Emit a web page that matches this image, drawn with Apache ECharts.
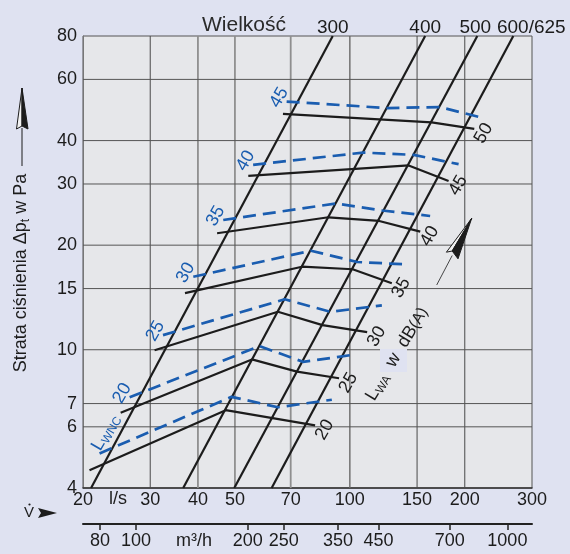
<!DOCTYPE html>
<html>
<head>
<meta charset="utf-8">
<script src="https://cdn.jsdelivr.net/npm/echarts@6/dist/echarts.min.js"></script>
<style>
  html, body { margin: 0; padding: 0; background: #dfe2f1; }
  #chart { width: 570px; height: 554px; }
</style>
</head>
<body>
<div id="chart"></div>
<script>
// ---------- axis ticks ----------
const flowTicks = [20, 30, 40, 50, 70, 100, 150, 200, 300];      // l/s
const flowGrid = [30, 40, 50, 70, 100, 150, 200];
const hourTicks = [80, 100, 200, 250, 350, 450, 700, 1000];      // m³/h
const pressureTicks = [4, 6, 7, 10, 15, 20, 30, 40, 60, 80];     // Pa
const pressureGrid = [6, 7, 10, 15, 20, 30, 40, 60];

// ---------- size lines (Wielkość): [flow l/s, Δp Pa] ----------
const sizeNames = ['300', '400', '500', '600/625'];
const size300 = [[21.0, 4], [90.2, 80]];
const size400 = [[36.6, 4], [157.5, 80]];
const size500 = [[49.8, 4], [215.7, 80]];
const size600 = [[62.4, 4], [268.0, 80]];

// ---------- sound power level LwA in dB(A) ----------
const lwaLevels = [20, 25, 30, 35, 40, 45, 50];
const lwa20 = [[20.8, 4.50], [47.3, 6.70], [81.1, 6.06]];
const lwa25 = [[25.1, 6.59], [55.4, 9.38], [72.7, 8.65], [93.7, 8.28]];
const lwa30 = [[30.8, 9.97], [64.8, 12.86], [84.8, 11.77], [111.0, 11.24]];
const lwa35 = [[37.0, 14.56], [74.9, 17.34], [101.7, 17.05], [128.8, 15.53]];
const lwa40 = [[44.9, 21.64], [87.9, 24.06], [119.4, 23.48], [152.9, 21.87]];
const lwa45 = [[54.2, 31.65], [142.6, 33.93], [181.4, 30.62]];
const lwa50 = [[66.8, 47.76], [163.8, 45.13], [211.8, 43.23]];

// ---------- LWNC curves ----------
const lwncNames = ['', '20', '25', '30', '35', '40', '45'];
const lwncLow = [[22.1, 5.03], [49.0, 7.32], [64.8, 6.83], [89.7, 7.18]];
const lwnc20 = [[26.5, 7.30], [58.0, 10.24], [75.4, 9.23], [103.2, 9.69]];
const lwnc25 = [[32.4, 11.02], [67.5, 13.97], [89.0, 12.86], [121.3, 13.42]];
const lwnc30 = [[38.9, 16.22], [79.1, 19.28], [104.5, 17.89], [138.2, 17.62]];
const lwnc35 = [[46.6, 23.63], [92.0, 26.37], [121.6, 25.17], [162.3, 24.27]];
const lwnc40 = [[55.8, 34.05], [108.3, 36.94], [147.0, 36.38], [192.7, 34.21]];
const lwnc45 = [[68.3, 51.80], [125.3, 49.62], [172.5, 49.95], [224.0, 46.41]];

// ---------- drawing ----------
const FONT = '"Liberation Sans", Arial, Helvetica, sans-serif';
const INK = '#1c1c1c';
const BLUE = '#1a5db0';
const lg = Math.log10;
const toXY = pts => pts.map(([q, dp]) => [lg(q), lg(dp)]);
const fmt = v => String(Math.round(Math.pow(10, v)));

const sizeLines = [size300, size400, size500, size600];
const lwaLines = [lwa20, lwa25, lwa30, lwa35, lwa40, lwa45, lwa50];
const lwncLines = [lwncLow, lwnc20, lwnc25, lwnc30, lwnc35, lwnc40, lwnc45];

// grid line look for each flow value
const flowGridStyle = {
  30: { color: '#4a4a4a', width: 1 },
  40: { color: '#8f8f8f', width: 1.8 },
  50: { color: '#8f8f8f', width: 1.8 },
  70: { color: '#8f8f8f', width: 1.8 },
  100: { color: '#6a6a6a', width: 1.4 },
  150: { color: '#4a4a4a', width: 1 },
  200: { color: '#4a4a4a', width: 1 }
};

function path(pts, lineStyle, z) {
  return {
    type: 'line', data: toXY(pts), symbol: 'none', silent: true,
    animation: false, z: z, lineStyle: lineStyle
  };
}

const series = [];
flowGrid.forEach(q => series.push(path([[q, 4], [q, 80]], flowGridStyle[q], 1)));
pressureGrid.forEach(p => series.push(path([[20, p], [300, p]], { color: '#555', width: 1 }, 1)));
sizeLines.forEach(pts => series.push(path(pts, { color: INK, width: 2.2 }, 3)));
lwaLines.forEach(pts => series.push(path(pts, { color: INK, width: 2.2 }, 4)));
lwncLines.forEach(pts => series.push(path(pts, { color: BLUE, width: 2.7, type: [13, 7] }, 5)));

// text labels anchored on curve ends
const labels = [];
const subRich = (size) => ({
  m: { fontSize: size, fontFamily: FONT, lineHeight: size + 3 },
  s: { fontSize: Math.round(size * 0.65), fontFamily: FONT, lineHeight: Math.round(size * 0.65), verticalAlign: 'bottom' }
});
const sizeShift = { '300': 0, '400': 0, '500': -2, '600/625': 18 };
sizeLines.forEach((pts, i) => labels.push({
  pt: pts[pts.length - 1], text: sizeNames[i], dx: sizeShift[sizeNames[i]], dy: -8.5, rot: 0, color: INK, size: 19
}));
lwaLines.forEach((pts, i) => labels.push({
  pt: pts[pts.length - 1], text: String(lwaLevels[i]), dx: 9.5, dy: 4.5, rot: 60, color: INK, size: 18
}));
lwncLines.forEach((pts, i) => {
  if (lwncNames[i]) labels.push({
    pt: pts[0], text: lwncNames[i], dx: -7.5, dy: -4, rot: 60, color: BLUE, size: 18
  });
});
labels.push({
  pt: lwncLow[0], text: '{m|L}{s|WNC}', rich: subRich(18), dx: 6, dy: -21, rot: 60, color: BLUE, size: 18
});

series.push({
  type: 'custom', coordinateSystem: 'cartesian2d', silent: true, animation: false, z: 10,
  data: labels.map(l => [lg(l.pt[0]), lg(l.pt[1])]),
  encode: { x: 0, y: 1 },
  renderItem: (params, api) => {
    const l = labels[params.dataIndex];
    const p = api.coord([api.value(0), api.value(1)]);
    const style = {
      text: l.text, fill: l.color, font: l.size + 'px ' + FONT,
      align: 'center', verticalAlign: 'middle'
    };
    if (l.rich) {
      style.rich = {};
      Object.keys(l.rich).forEach(k => { style.rich[k] = Object.assign({ fill: l.color }, l.rich[k]); });
    }
    return { type: 'text', x: p[0] + l.dx, y: p[1] + l.dy, rotation: l.rot * Math.PI / 180, style: style };
  }
});

const axisText = { color: INK, fontSize: 18, fontFamily: FONT };

const option = {
  backgroundColor: '#dfe2f1',
  animation: false,
  grid: {
    left: 83, right: 38, top: 36, bottom: 66,
    show: true, backgroundColor: '#e6e7ea', borderColor: '#555', borderWidth: 1
  },
  xAxis: [{
    type: 'value', min: lg(20), max: lg(300), position: 'bottom',
    axisLine: { show: true, lineStyle: { color: '#333', width: 1.5 } },
    axisTick: { show: false }, splitLine: { show: false },
    axisLabel: Object.assign({ customValues: flowTicks.map(lg), formatter: fmt, margin: 3 }, axisText)
  }, {
    type: 'value', min: lg(72), max: lg(1165), position: 'bottom', offset: 36,
    axisLine: { show: true, lineStyle: { color: '#222', width: 2 } },
    axisTick: { show: true, customValues: hourTicks.map(lg), length: 6, lineStyle: { color: '#222', width: 1.5 } },
    splitLine: { show: false },
    axisLabel: Object.assign({ customValues: hourTicks.map(lg), formatter: fmt, margin: 8 }, axisText)
  }],
  yAxis: {
    type: 'value', min: lg(4), max: lg(80),
    axisLine: { show: true, lineStyle: { color: '#777', width: 1 } },
    axisTick: { show: false }, splitLine: { show: false },
    axisLabel: Object.assign({ customValues: pressureTicks.map(lg), formatter: fmt, margin: 6 }, axisText)
  },
  graphic: { elements: [
    { type: 'text', x: 244, y: 25, z: 20, style: { text: 'Wielkość', font: '21px ' + FONT, fill: '#2a2a2a', align: 'center', verticalAlign: 'middle' } },
    { type: 'text', x: 118, y: 499, z: 20, style: { text: 'l/s', font: '18px ' + FONT, fill: INK, align: 'center', verticalAlign: 'middle' } },
    { type: 'text', x: 194, y: 541, z: 20, style: { text: 'm³/h', font: '18px ' + FONT, fill: INK, align: 'center', verticalAlign: 'middle' } },
    // flow symbol V-dot with arrow
    { type: 'text', x: 29, y: 513, z: 20, style: { text: 'V', font: '15px ' + FONT, fill: INK, align: 'center', verticalAlign: 'middle' } },
    { type: 'circle', z: 20, shape: { cx: 29.5, cy: 504.5, r: 1.1 }, style: { fill: INK } },
    { type: 'polygon', z: 20, shape: { points: [[38, 508], [57, 513], [38, 518], [41, 513]] }, style: { fill: INK } },
    // pressure axis title with arrow
    { type: 'text', x: 21, y: 273, rotation: Math.PI / 2, z: 20, style: {
        text: '{m|Strata ciśnienia Δp}{s|t}{m| w Pa}', align: 'center', verticalAlign: 'middle',
        rich: { m: { fontSize: 18, fontFamily: FONT, fill: INK, lineHeight: 21 }, s: { fontSize: 12, fontFamily: FONT, fill: INK, lineHeight: 12, verticalAlign: 'bottom' } } } },
    { type: 'line', z: 20, shape: { x1: 22, y1: 128, x2: 22, y2: 166 }, style: { stroke: INK, lineWidth: 1 } },
    { type: 'polygon', z: 21, shape: { points: [[22, 88], [16.5, 129], [22, 126]] }, style: { fill: '#f2f2f2', stroke: INK, lineWidth: 1 } },
    { type: 'polygon', z: 21, shape: { points: [[22, 88], [22, 126], [28, 129]] }, style: { fill: INK, stroke: INK, lineWidth: 1 } },
    // sound power note with rising arrow
    { type: 'rect', z: 8, shape: { x: 380, y: 349, width: 27, height: 23 }, style: { fill: '#dfe2f1' } },
    { type: 'text', x: 397, y: 354, rotation: 59 * Math.PI / 180, z: 20, style: {
        text: '{m|L}{s|WA}   {m|w}   {m|dB}{p|(A)}', align: 'center', verticalAlign: 'middle',
        rich: {
          m: { fontSize: 18, fontFamily: FONT, fill: INK, lineHeight: 21 },
          s: { fontSize: 12, fontFamily: FONT, fill: INK, lineHeight: 12, verticalAlign: 'bottom' },
          p: { fontSize: 16, fontFamily: FONT, fill: INK, lineHeight: 21 }
        } } },
    { type: 'line', z: 20, shape: { x1: 436.7, y1: 285, x2: 452.2, y2: 255.5 }, style: { stroke: INK, lineWidth: 0.8 } },
    { type: 'polygon', z: 21, shape: { points: [[471.7, 218.3], [446.4, 252.2], [452.2, 251]] }, style: { fill: '#f2f2f2', stroke: INK, lineWidth: 1 } },
    { type: 'polygon', z: 21, shape: { points: [[471.7, 218.3], [452.2, 251], [458, 258.8]] }, style: { fill: INK, stroke: INK, lineWidth: 1 } }
  ] },
  series: series
};

const chart = echarts.init(document.getElementById('chart'), null, { renderer: 'canvas' });
chart.setOption(option);
</script>
</body>
</html>
